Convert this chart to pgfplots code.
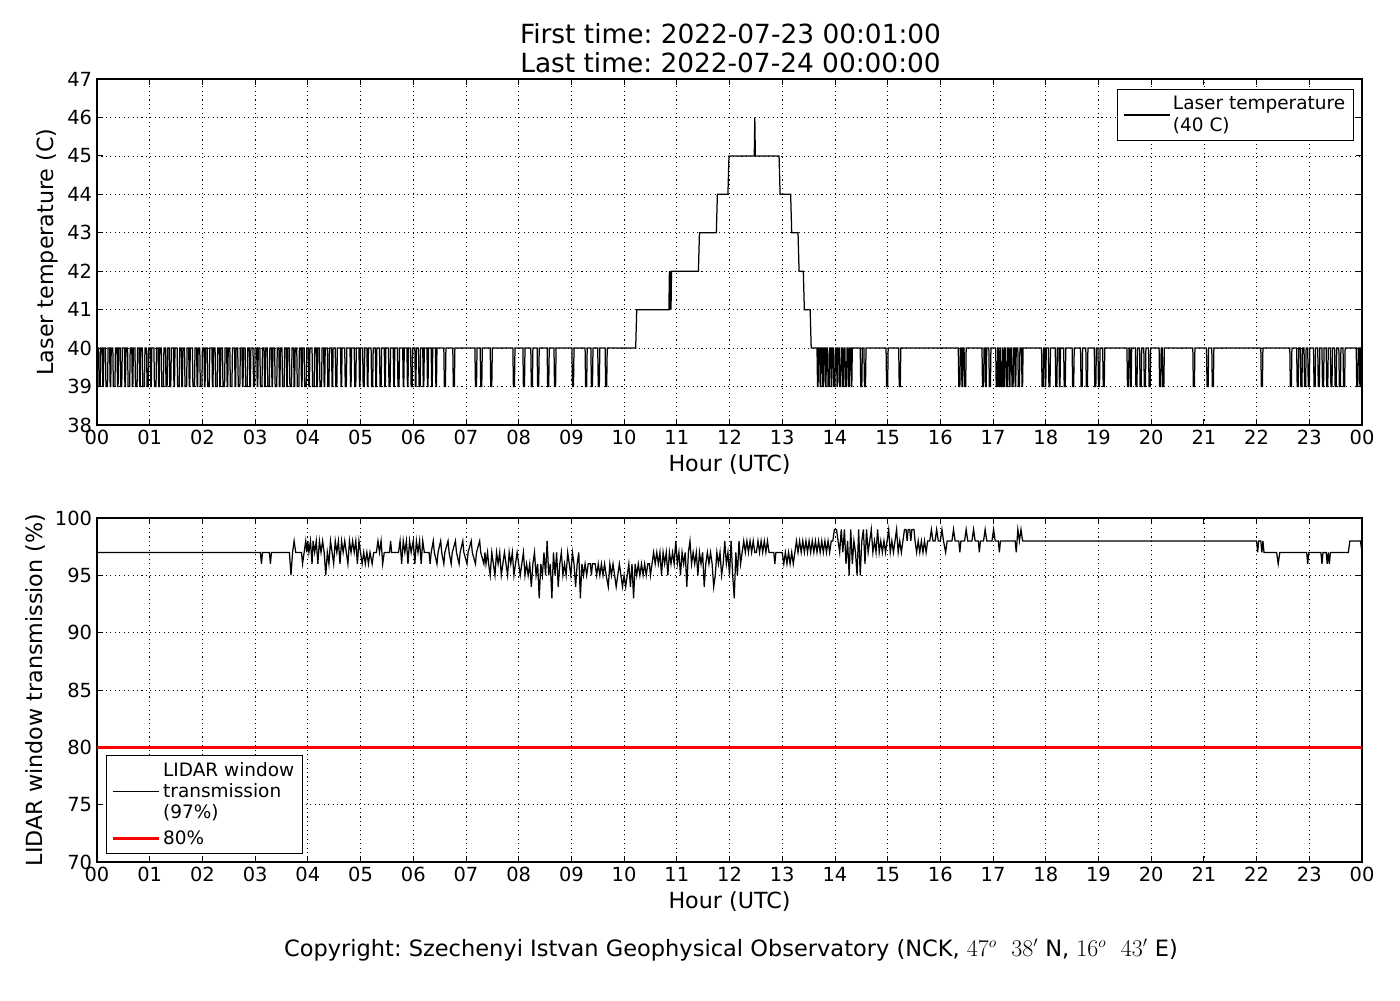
\documentclass[border=0pt]{standalone}
\usepackage{fontspec}
\setmainfont{DejaVu Sans}
\usepackage{pgfplots}
\pgfplotsset{compat=1.18}
\frenchspacing
\pgfplotsset{
  mystyle/.style={
    scale only axis, width=910.8pt,
    xmin=0, xmax=24, xtick={0,...,24},
    xticklabels={00,01,02,03,04,05,06,07,08,09,10,11,12,13,14,15,16,17,18,19,20,21,22,23,00},
    grid=major, grid style={black, line width=0.5pt, dash pattern=on 0.8pt off 2.4pt},
    axis line style={line width=0.8pt},
    tick style={black, line width=0.6pt},
    major tick length=4pt,
    tick align=inside,
    /pgf/number format/assume math mode=true,
    tick label style={font=\fontsize{14}{16}\selectfont},
    label style={font=\fontsize{16}{19}\selectfont},
    xlabel={Hour (UTC)},
    legend cell align={left},
    legend style={draw=black, line width=0.8pt, fill=white, font=\fontsize{13.3}{15.3}\selectfont, cells={align=left}, inner xsep=4pt, inner ysep=3pt, row sep=3pt},
    legend image code/.code={\draw[##1] (0pt,0pt) -- (27.4pt,0pt); \path (0pt,0pt) -- (33pt,0pt);},
  }
}
\begin{document}
\begin{tikzpicture}
\path[use as bounding box] (0,0) rectangle (1008pt,720pt);
\node[font=\fontsize{19}{22}\selectfont] at (526pt,695.5pt) {First time: 2022-07-23 00:01:00};
\node[font=\fontsize{19}{22}\selectfont] at (526pt,674.6pt) {Last time: 2022-07-24 00:00:00};
\node[font=\fontsize{16.2}{19}\selectfont] at (526.3pt,36pt) {Copyright: Szechenyi Istvan Geophysical Observatory (NCK, $47^o\ \ 38'$ N, $16^o\ \ 43'$ E)};

\begin{axis}[mystyle, at={(69.84pt,414pt)}, anchor=south west, height=249.12pt,
  ymin=38, ymax=47, ytick={38,...,47}, ylabel={Laser temperature (C)},
  legend style={at={(0.9937,0.971)}, anchor=north east}]
\addplot[black, line width=0.9pt] coordinates {
(0,40)
(0.03,40)(0.04,39)(0.06,39)(0.07,40)
(0.10,40)(0.11,39)(0.12,39)(0.13,40)
(0.16,40)(0.17,39)(0.20,39)(0.21,40)
(0.24,40)(0.25,39)(0.26,39)(0.27,40)
(0.30,40)(0.31,39)(0.34,39)(0.35,40)
(0.38,40)(0.39,39)(0.40,39)(0.41,40)
(0.44,40)(0.45,39)(0.47,39)(0.48,40)
(0.52,40)(0.53,39)(0.54,39)(0.55,40)
(0.58,40)(0.59,39)(0.62,39)(0.63,40)
(0.66,40)(0.67,39)(0.68,39)(0.69,40)
(0.72,40)(0.73,39)(0.76,39)(0.77,40)
(0.80,40)(0.81,39)(0.82,39)(0.83,40)
(0.86,40)(0.87,39)(0.90,39)(0.91,40)
(0.94,40)(0.95,39)(0.97,39)(0.98,40)
(1.01,40)(1.02,39)(1.03,39)(1.04,40)
(1.08,40)(1.09,39)(1.12,39)(1.13,40)
(1.16,40)(1.17,39)(1.18,39)(1.19,40)
(1.22,40)(1.23,39)(1.26,39)(1.27,40)
(1.30,40)(1.31,39)(1.33,39)(1.34,40)
(1.37,40)(1.38,39)(1.40,39)(1.41,40)
(1.45,40)(1.46,39)(1.47,39)(1.48,40)
(1.52,40)(1.53,39)(1.56,39)(1.57,40)
(1.60,40)(1.61,39)(1.62,39)(1.63,40)
(1.66,40)(1.67,39)(1.70,39)(1.71,40)
(1.74,40)(1.75,39)(1.76,39)(1.77,40)
(1.81,40)(1.82,39)(1.85,39)(1.86,40)
(1.89,40)(1.90,39)(1.91,39)(1.92,40)
(1.95,40)(1.96,39)(1.99,39)(2.00,40)
(2.03,40)(2.04,39)(2.05,39)(2.06,40)
(2.09,40)(2.10,39)(2.13,39)(2.14,40)
(2.18,40)(2.19,39)(2.20,39)(2.21,40)
(2.24,40)(2.25,39)(2.28,39)(2.29,40)
(2.32,40)(2.33,39)(2.34,39)(2.35,40)
(2.38,40)(2.39,39)(2.42,39)(2.43,40)
(2.46,40)(2.47,39)(2.48,39)(2.49,40)
(2.52,40)(2.53,39)(2.56,39)(2.57,40)
(2.61,40)(2.62,39)(2.63,39)(2.64,40)
(2.67,40)(2.68,39)(2.71,39)(2.72,40)
(2.75,40)(2.76,39)(2.77,39)(2.78,40)
(2.81,40)(2.82,39)(2.85,39)(2.86,40)
(2.89,40)(2.90,39)(2.91,39)(2.92,40)
(2.96,40)(2.97,39)(2.99,39)(3.00,40)
(3.03,40)(3.04,39)(3.05,39)(3.06,40)
(3.09,40)(3.10,39)(3.13,39)(3.14,40)
(3.17,40)(3.18,39)(3.19,39)(3.20,40)
(3.23,40)(3.24,39)(3.27,39)(3.28,40)
(3.31,40)(3.32,39)(3.33,39)(3.34,40)
(3.37,40)(3.38,39)(3.41,39)(3.42,40)
(3.45,40)(3.46,39)(3.47,39)(3.48,40)
(3.51,40)(3.52,39)(3.55,39)(3.56,40)
(3.59,40)(3.60,39)(3.61,39)(3.62,40)
(3.65,40)(3.66,39)(3.69,39)(3.70,40)
(3.73,40)(3.74,39)(3.75,39)(3.76,40)
(3.79,40)(3.80,39)(3.83,39)(3.84,40)
(3.87,40)(3.88,39)(3.89,39)(3.90,40)
(3.93,40)(3.94,39)(3.97,39)(3.98,40)
(4.01,40)(4.02,39)(4.03,39)(4.04,40)
(4.08,40)(4.09,39)(4.12,39)(4.13,40)
(4.16,40)(4.17,39)(4.18,39)(4.19,40)
(4.22,40)(4.23,39)(4.26,39)(4.27,40)
(4.30,40)(4.31,39)(4.32,39)(4.33,40)
(4.37,40)(4.38,39)(4.40,39)(4.41,40)
(4.45,40)(4.46,39)(4.47,39)(4.48,40)
(4.52,40)(4.53,39)(4.55,39)(4.56,40)
(4.62,40)(4.63,39)(4.64,39)(4.65,40)
(4.70,40)(4.71,39)(4.73,39)(4.74,40)
(4.80,40)(4.81,39)(4.82,39)(4.83,40)
(4.88,40)(4.89,39)(4.91,39)(4.92,40)
(4.97,40)(4.98,39)(4.99,39)(5.00,40)
(5.04,40)(5.05,39)(5.07,39)(5.08,40)
(5.12,40)(5.13,39)(5.14,39)(5.15,40)
(5.20,40)(5.21,39)(5.23,39)(5.24,40)
(5.28,40)(5.29,39)(5.30,39)(5.31,40)
(5.36,40)(5.37,39)(5.39,39)(5.40,40)
(5.45,40)(5.46,39)(5.47,39)(5.48,40)
(5.53,40)(5.54,39)(5.56,39)(5.57,40)
(5.62,40)(5.63,39)(5.64,39)(5.65,40)
(5.70,40)(5.71,39)(5.73,39)(5.74,40)
(5.80,40)(5.81,39)(5.82,39)(5.83,40)
(5.88,40)(5.89,39)(5.90,39)(5.91,40)
(5.95,40)(5.96,39)(5.98,39)(5.99,40)
(6.03,40)(6.04,39)(6.05,39)(6.06,40)
(6.10,40)(6.11,39)(6.13,39)(6.14,40)
(6.18,40)(6.19,39)(6.20,39)(6.21,40)
(6.26,40)(6.27,39)(6.28,39)(6.29,40)
(6.34,40)(6.35,39)(6.36,39)(6.37,40)
(6.42,40)(6.43,39)(6.44,39)(6.45,40)
(6.58,40)(6.59,39)(6.61,39)(6.62,40)
(6.75,40)(6.76,39)(6.78,39)(6.79,40)
(7.17,40)(7.18,39)(7.20,39)(7.21,40)
(7.27,40)(7.28,39)(7.30,39)(7.31,40)
(7.46,40)(7.47,39)(7.49,39)(7.50,40)
(7.89,40)(7.90,39)(7.92,39)(7.93,40)
(8.08,40)(8.09,39)(8.11,39)(8.12,40)
(8.23,40)(8.24,39)(8.26,39)(8.27,40)
(8.35,40)(8.36,39)(8.38,39)(8.39,40)
(8.54,40)(8.55,39)(8.57,39)(8.58,40)
(8.67,40)(8.68,39)(8.70,39)(8.71,40)
(9.01,40)(9.02,39)(9.04,39)(9.05,40)
(9.26,40)(9.27,39)(9.29,39)(9.30,40)
(9.37,40)(9.38,39)(9.40,39)(9.41,40)
(9.50,40)(9.51,39)(9.53,39)(9.54,40)
(9.64,40)(9.65,39)(9.67,39)(9.68,40)
(10.22,40)(10.24,41)(10.85,41)(10.86,42)(10.87,41)(10.88,42)(10.89,41)(10.90,42)
(11.41,42)(11.43,43)(11.75,43)(11.77,44)(11.97,44)(11.99,45)(12.47,45)(12.48,46)(12.49,45)
(12.94,45)(12.96,44)(13.16,44)(13.18,43)(13.30,43)(13.32,42)(13.40,42)(13.42,41)(13.53,41)(13.55,40)
(13.66,40)(13.67,39)(13.68,39)(13.69,40)
(13.71,40)(13.72,39)(13.73,39)(13.74,40)
(13.76,40)(13.77,39)(13.78,39)(13.79,40)
(13.81,40)(13.82,39)(13.83,39)(13.84,40)
(13.86,40)(13.87,39)(13.89,39)(13.90,40)
(13.92,40)(13.93,39)(13.94,39)(13.95,40)
(13.97,40)(13.98,39)(14.00,39)(14.01,40)
(14.03,40)(14.04,39)(14.05,39)(14.06,40)
(14.08,40)(14.09,39)(14.11,39)(14.12,40)
(14.14,40)(14.15,39)(14.16,39)(14.17,40)
(14.19,40)(14.20,39)(14.22,39)(14.23,40)
(14.25,40)(14.26,39)(14.27,39)(14.28,40)
(14.30,40)(14.31,39)(14.32,39)(14.33,40)
(14.48,40)(14.49,39)(14.51,39)(14.52,40)
(14.55,40)(14.56,39)(14.58,39)(14.59,40)
(14.97,40)(14.98,39)(15.00,39)(15.01,40)
(15.21,40)(15.22,39)(15.24,39)(15.25,40)
(16.34,40)(16.35,39)(16.37,39)(16.38,40)
(16.40,40)(16.41,39)(16.42,39)(16.43,40)
(16.45,40)(16.46,39)(16.48,39)(16.49,40)
(16.79,40)(16.80,39)(16.82,39)(16.83,40)
(16.85,40)(16.86,39)(16.87,39)(16.88,40)
(16.92,40)(16.93,39)(16.95,39)(16.96,40)
(17.05,40)(17.06,39)(17.08,39)(17.09,40)
(17.10,40)(17.11,39)(17.12,39)(17.13,40)
(17.14,40)(17.15,39)(17.17,39)(17.18,40)
(17.19,40)(17.20,39)(17.21,39)(17.22,40)
(17.24,40)(17.25,39)(17.27,39)(17.28,40)
(17.30,40)(17.31,39)(17.32,39)(17.33,40)
(17.35,40)(17.36,39)(17.38,39)(17.39,40)
(17.41,40)(17.42,39)(17.43,39)(17.44,40)
(17.47,40)(17.48,39)(17.50,39)(17.51,40)
(17.54,40)(17.55,39)(17.56,39)(17.57,40)
(17.92,40)(17.93,39)(17.95,39)(17.96,40)
(17.98,40)(17.99,39)(18.00,39)(18.01,40)
(18.05,40)(18.06,39)(18.08,39)(18.09,40)
(18.18,40)(18.19,39)(18.21,39)(18.22,40)
(18.25,40)(18.26,39)(18.27,39)(18.28,40)
(18.34,40)(18.35,39)(18.37,39)(18.38,40)
(18.50,40)(18.51,39)(18.53,39)(18.54,40)
(18.66,40)(18.67,39)(18.69,39)(18.70,40)
(18.76,40)(18.77,39)(18.79,39)(18.80,40)
(18.92,40)(18.93,39)(18.95,39)(18.96,40)
(18.99,40)(19.00,39)(19.02,39)(19.03,40)
(19.08,40)(19.09,39)(19.11,39)(19.12,40)
(19.54,40)(19.55,39)(19.57,39)(19.58,40)
(19.60,40)(19.61,39)(19.62,39)(19.63,40)
(19.70,40)(19.71,39)(19.73,39)(19.74,40)
(19.78,40)(19.79,39)(19.81,39)(19.82,40)
(19.86,40)(19.87,39)(19.89,39)(19.90,40)
(19.95,40)(19.96,39)(19.98,39)(19.99,40)
(20.15,40)(20.16,39)(20.18,39)(20.19,40)
(20.21,40)(20.22,39)(20.24,39)(20.25,40)
(20.79,40)(20.80,39)(20.82,39)(20.83,40)
(21.05,40)(21.06,39)(21.08,39)(21.09,40)
(21.15,40)(21.16,39)(21.18,39)(21.19,40)
(22.08,40)(22.09,39)(22.11,39)(22.12,40)
(22.63,40)(22.64,39)(22.66,39)(22.67,40)
(22.76,40)(22.77,39)(22.79,39)(22.80,40)
(22.83,40)(22.84,39)(22.86,39)(22.87,40)
(22.90,40)(22.91,39)(22.93,39)(22.94,40)
(22.97,40)(22.98,39)(23.00,39)(23.01,40)
(23.08,40)(23.09,39)(23.11,39)(23.12,40)
(23.16,40)(23.17,39)(23.19,39)(23.20,40)
(23.24,40)(23.25,39)(23.27,39)(23.28,40)
(23.32,40)(23.33,39)(23.35,39)(23.36,40)
(23.40,40)(23.41,39)(23.43,39)(23.44,40)
(23.48,40)(23.49,39)(23.51,39)(23.52,40)
(23.56,40)(23.57,39)(23.59,39)(23.60,40)
(23.64,40)(23.65,39)(23.67,39)(23.68,40)
(23.89,40)(23.90,39)(23.92,39)(23.93,40)
(23.95,40)(23.96,39)(23.97,39)(23.98,40)
(23.99,40)(24,39)
};
\addlegendentry{Laser temperature\\(40 C)}
\end{axis}

\begin{axis}[mystyle, at={(69.84pt,99.36pt)}, anchor=south west, height=247.68pt,
  ymin=70, ymax=100, ytick={70,75,...,100}, ylabel={LIDAR window transmission (\%)},
  legend style={at={(0.0071,0.0233)}, anchor=south west}]
\addplot[black, line width=0.9pt] coordinates {
(0,97)(3.10,97)(3.12,96)(3.14,97)(3.27,97)(3.29,96)(3.31,97)(3.65,97)(3.68,95)(3.71,97)(3.74,98)(3.77,97)
(3.88,97)(3.90,96)(3.93,97)(3.96,98)(3.98,97)(4.00,98)(4.02,97)(4.05,98)(4.08,96)(4.10,98)(4.13,97)(4.16,98)
(4.19,96)(4.22,98)(4.25,97)(4.28,98)(4.31,97)(4.34,95)(4.37,97)(4.40,96)(4.43,98)(4.46,97)(4.49,96)(4.52,98)
(4.55,97)(4.58,98)(4.61,96)(4.64,98)(4.67,97)(4.70,98)(4.73,97)(4.76,96)(4.79,98)(4.82,97)(4.85,98)(4.88,97)
(4.91,98)(4.94,96)(4.97,98)(5.00,97)(5.03,96)(5.06,97)(5.09,96)(5.12,97)(5.15,96)(5.18,97)(5.22,96)(5.25,97)
(5.30,97)(5.33,98)(5.36,97)(5.39,98)(5.42,96)(5.45,97)(5.55,97)(5.57,98)(5.59,97)(5.72,97)(5.75,98)(5.78,96)
(5.81,98)(5.84,97)(5.87,98)(5.90,96)(5.93,98)(5.96,97)(6.00,98)(6.03,96)(6.06,98)(6.09,97)(6.12,98)(6.15,96)
(6.18,98)(6.21,97)(6.30,97)(6.32,96)(6.34,97)(6.38,98)(6.40,97)(6.45,96)(6.47,97)(6.52,98)(6.54,97)(6.58,96)
(6.60,97)(6.66,98)(6.68,97)(6.72,96)(6.74,97)(6.80,98)(6.82,97)(6.87,96)(6.89,97)(6.94,98)(6.96,97)(7.02,96)
(7.04,97)(7.10,98)(7.12,97)(7.18,96)(7.20,97)(7.26,98)(7.28,97)(7.34,96)(7.36,97)(7.38,96)(7.41,97)(7.43,96)
(7.46,95)(7.49,97)(7.52,96)(7.55,95)(7.58,97)(7.61,96)(7.64,97)(7.67,95)(7.70,96)(7.73,97)(7.76,96)(7.79,95)
(7.82,97)(7.85,96)(7.88,97)(7.91,95)(7.94,96)(7.97,97)(8.00,96)
(8.03,95)(8.06,96)(8.09,97)(8.12,95)(8.15,96)(8.18,95)(8.21,96)(8.24,94)(8.27,96)(8.30,97)(8.33,95)(8.36,96)
(8.39,93)(8.42,96)(8.45,95)(8.48,97)(8.51,95)(8.54,98)(8.57,95)(8.60,96)(8.63,93)(8.66,97)(8.69,95)(8.72,97)
(8.75,94)(8.78,96)(8.81,97)(8.84,95)(8.87,96)(8.90,95)(8.93,97)(8.96,96)(8.99,95)(9.02,97)(9.05,96)(9.08,94)
(9.11,96)(9.14,97)(9.17,93)(9.20,96)(9.23,95)(9.26,96)(9.29,95)(9.32,96)(9.36,96)(9.38,95)(9.40,96)(9.45,96)
(9.48,95)(9.51,96)(9.54,95)(9.57,96)(9.60,95)(9.63,96)(9.66,95)(9.70,94)(9.73,96)(9.76,95)(9.79,96)(9.82,95)
(9.85,94)(9.88,95)(9.91,96)(9.94,95)(9.97,94)(10.00,95)(10.03,94)(10.06,95)(10.09,96)(10.12,94)(10.15,96)
(10.18,93)(10.21,96)(10.24,95)(10.27,96)(10.30,95)(10.33,96)(10.36,95)(10.39,96)(10.42,95)(10.45,96)(10.48,96)
(10.50,95)(10.53,96)(10.56,97)(10.59,96)(10.62,97)(10.65,96)(10.68,97)(10.71,95)(10.74,97)(10.77,96)(10.80,97)
(10.83,95)(10.86,97)(10.89,96)(10.92,97)(10.95,96)(10.98,98)(11.01,96)(11.04,97)(11.07,95)(11.10,97)(11.13,96)
(11.16,97)(11.19,94)(11.22,97)(11.25,98)(11.28,96)(11.31,97)(11.34,96)(11.37,97)(11.40,95)(11.43,97)(11.46,96)
(11.49,97)(11.52,94)(11.55,96)(11.58,97)(11.61,96)(11.64,97)(11.67,96)(11.70,94)(11.73,95)(11.76,97)(11.79,96)
(11.82,97)(11.85,95)(11.88,96)(11.91,98)(11.94,96)(11.97,97)(12.00,95)(12.03,98)(12.06,95)(12.09,93)(12.12,97)
(12.15,95)(12.18,98)(12.21,96)(12.24,97)(12.27,98)
(12.30,97)(12.33,98)(12.36,97)(12.39,98)(12.42,97)(12.45,98)(12.48,97)(12.51,97)(12.54,98)(12.57,97)(12.60,98)
(12.63,97)(12.66,98)(12.69,97)(12.72,98)(12.75,97)(12.84,97)(12.86,96)(12.88,97)(13.00,97)(13.03,96)(13.06,97)
(13.09,96)(13.12,97)(13.15,96)(13.18,97)(13.21,96)(13.24,97)(13.27,98)(13.30,97)(13.33,98)(13.36,97)(13.39,98)
(13.42,97)(13.45,98)(13.48,97)(13.51,98)(13.54,97)(13.57,98)(13.60,97)(13.63,98)(13.66,97)(13.69,98)(13.72,97)
(13.75,98)(13.78,97)(13.81,98)(13.84,97)(13.87,98)(13.90,97)(13.93,98)(13.96,98)(13.99,99)(14.03,99)(14.06,98)
(14.09,97)(14.12,99)(14.15,97)(14.18,99)(14.21,96)(14.24,98)(14.27,95)(14.30,99)(14.33,96)(14.36,98)(14.39,97)
(14.42,95)(14.45,99)(14.48,95)(14.51,98)(14.54,99)(14.57,96)(14.60,99)(14.63,97)(14.66,98)(14.69,99)(14.72,97)
(14.75,98)(14.78,97)(14.81,99)(14.84,97)(14.87,98)(14.90,97)(14.93,98)(14.96,97)(14.99,98)(15.02,99)(15.05,97)
(15.08,98)(15.11,97)(15.14,98)(15.17,99)(15.20,97)(15.23,98)(15.26,97)(15.29,98)(15.32,99)(15.35,99)(15.37,98)
(15.39,99)(15.42,99)(15.44,98)(15.46,99)(15.50,99)(15.52,98)(15.55,97)(15.58,98)(15.61,97)(15.64,98)(15.67,97)
(15.70,98)(15.73,97)(15.76,98)(15.80,98)(15.83,99)(15.86,98)(15.90,98)(15.93,99)(15.96,98)(16.00,98)(16.03,99)
(16.06,98)(16.10,97)(16.13,98)(16.22,98)(16.25,99)(16.28,98)(16.35,98)(16.37,97)(16.39,98)(16.46,98)(16.49,99)
(16.52,98)(16.60,98)(16.63,99)(16.66,98)(16.72,98)(16.74,97)(16.76,98)(16.82,98)(16.85,99)(16.88,98)(16.98,98)
(17.01,99)(17.04,98)(17.10,98)(17.12,97)(17.14,98)(17.42,98)(17.44,97)(17.47,99)(17.50,98)(17.53,99)(17.56,98)
(22.00,98)(22.02,97)(22.04,98)(22.08,98)(22.10,97)(22.12,98)(22.14,97)(22.38,97)(22.41,96)(22.44,97)(22.95,97)
(22.97,96)(22.99,97)(23.22,97)(23.24,96)(23.26,97)(23.32,97)(23.34,96)(23.36,97)(23.38,96)(23.40,97)(23.74,97)
(23.77,98)(23.97,98)(24.00,97)
};
\addlegendentry{LIDAR window\\transmission\\(97\%)}
\addplot[red, line width=1.8pt] coordinates {(0,80) (24,80)};
\addlegendentry{80\%}
\end{axis}
\end{tikzpicture}
\end{document}
